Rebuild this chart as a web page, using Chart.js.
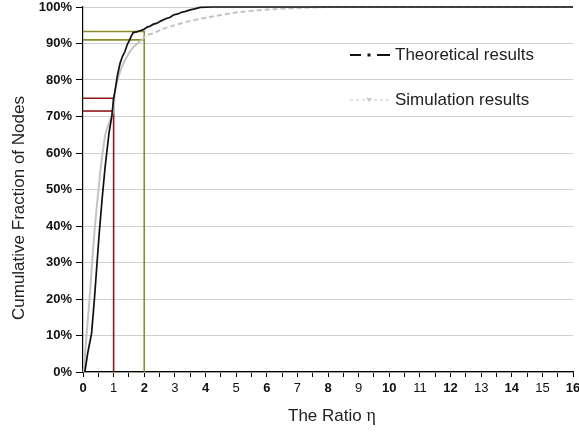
<!DOCTYPE html>
<html>
<head>
<meta charset="utf-8">
<script src="https://cdn.jsdelivr.net/npm/chart.js@4"></script>
<style>
  html, body { margin: 0; padding: 0; background: #fff; }
  #wrap { width: 579px; height: 433px; }
</style>
</head>
<body>
<div id="wrap"><canvas id="myChart"></canvas></div>
<script>
// theoretical curve (black)
const theoX = [0.06, 0.15, 0.28, 0.37, 0.45, 0.53, 0.62, 0.72, 0.85, 0.94, 1.0, 1.05, 1.13, 1.21, 1.29, 1.37, 1.44, 1.51, 1.58, 1.64, 1.75, 1.86, 1.97, 2.1, 2.2, 2.3, 2.4, 2.55, 2.7, 2.85, 2.95, 3.1, 3.2, 3.35, 3.5, 3.65, 3.82, 4.2, 8, 16]
const theoY = [0, 5, 10.6, 19.7, 28.9, 38, 47, 56, 65.5, 70, 75, 77.3, 81.5, 84.6, 86.5, 87.8, 89.6, 90.8, 92.1, 93, 93.2, 93.5, 93.8, 94.5, 94.8, 95.3, 95.5, 96.2, 96.8, 97.2, 97.8, 98.1, 98.5, 98.8, 99.2, 99.5, 99.9, 100, 100, 100]
// simulation curve (grey)
const simX = [0.02, 0.12, 0.21, 0.29, 0.37, 0.47, 0.58, 0.74, 0.99, 1.05, 1.2, 1.37, 1.64, 1.92, 2.08, 2.3, 2.6, 2.95, 3.5, 4.04, 5, 6, 7, 8, 16]
const simY = [0, 10.6, 19.7, 29, 38, 47, 56, 65.5, 71.5, 77, 82, 85.5, 89, 91, 92.3, 92.8, 94, 94.9, 96.2, 97.1, 98.5, 99.3, 99.7, 100, 100]
// reference markers at eta = 1 and eta = 2
const markX = [1, 2]
const markTheo = [75, 93.3]
const markSim = [71.5, 91]
const markColors = ['#961515', '#8c8c2a']
const seriesNames = ['Theoretical results', 'Simulation results']

const FONT = '"Liberation Sans", Arial, sans-serif'
const pts = (xs, ys) => xs.map((x, i) => ({ x: x, y: ys[i] }))

const markSets = []
markX.forEach((mx, i) => {
  markSets.push({
    data: [{ x: 0, y: markTheo[i] }, { x: mx, y: markTheo[i] }, { x: mx, y: 0 }],
    borderColor: markColors[i], borderWidth: 1.6, pointRadius: 0, tension: 0, order: 3
  })
  markSets.push({
    data: [{ x: 0, y: markSim[i] }, { x: mx, y: markSim[i] }],
    borderColor: markColors[i], borderWidth: 1.6, pointRadius: 0, tension: 0, order: 3
  })
})

// legend inside the plot + axis titles
const textPlugin = {
  id: 'texts',
  afterDraw(chart) {
    const c = chart.ctx
    c.save()
    c.font = '17px ' + FONT
    c.fillStyle = '#222'
    c.textBaseline = 'middle'
    // theoretical: dash-dot sample
    let y = 55
    c.strokeStyle = '#111'; c.lineWidth = 1.8
    c.beginPath(); c.moveTo(350, y); c.lineTo(361, y); c.moveTo(377, y); c.lineTo(390, y); c.stroke()
    c.fillStyle = '#111'; c.fillRect(367.5, y - 1.5, 3, 3)
    c.fillStyle = '#222'
    c.fillText(seriesNames[0], 395, y)
    // simulation: grey dashes with small triangle
    y = 100
    c.strokeStyle = '#c8c8c8'; c.lineWidth = 1.2
    c.setLineDash([3, 3])
    c.beginPath(); c.moveTo(350, y); c.lineTo(390, y); c.stroke()
    c.setLineDash([])
    c.fillStyle = '#c8c8c8'
    c.beginPath(); c.moveTo(366, y - 2); c.lineTo(372, y - 2); c.lineTo(369, y + 2); c.closePath(); c.fill()
    c.fillStyle = '#222'
    c.fillText(seriesNames[1], 395, y)

    // x axis title, eta in a serif face
    c.textBaseline = 'alphabetic'
    c.textAlign = 'left'
    c.font = '17px ' + FONT
    const xt = 'The Ratio '
    c.fillText(xt, 288, 421)
    const w = c.measureText(xt).width
    c.font = '18px "Liberation Serif", "Times New Roman", serif'
    c.fillText('η', 288 + w, 421)

    // y axis title
    c.font = '17px ' + FONT
    c.translate(24, 320)
    c.rotate(-Math.PI / 2)
    c.fillText('Cumulative Fraction of Nodes', 0, 0)
    c.restore()
  }
}

const ctx = document.getElementById('myChart')
const myChart = new Chart(ctx, {
  type: 'line',
  data: {
    datasets: [
      {
        label: seriesNames[0], data: pts(theoX, theoY),
        borderColor: '#111', borderWidth: 1.7, pointRadius: 0, tension: 0, order: 1
      },
      {
        label: seriesNames[1], data: pts(simX, simY),
        borderColor: '#c4c4c4', borderWidth: 2, pointRadius: 0, tension: 0.2, order: 2,
        segment: { borderDash: s => s.p0.parsed.x >= 1.9 ? [5, 3] : undefined }
      },
      ...markSets
    ]
  },
  options: {
    responsive: true,
    maintainAspectRatio: false,
    animation: false,
    clip: false,
    layout: { padding: { top: 7, right: 6, left: 0, bottom: 0 } },
    plugins: { legend: { display: false }, tooltip: { enabled: false } },
    scales: {
      x: {
        type: 'linear', min: 0, max: 16,
        border: { color: '#000', width: 1.2 },
        grid: { drawOnChartArea: false, tickLength: 5, tickColor: '#000' },
        ticks: {
          stepSize: 0.5, autoSkip: false, maxRotation: 0, padding: 4, color: '#111',
          callback: v => Number.isInteger(v) ? String(v) : '',
          font: c => ({ family: FONT, size: 13, weight: (c.tick && c.tick.value % 2 === 0) ? 'bold' : 'normal' })
        },
        afterFit: s => { s.height = 61; s.paddingRight = 0; s.paddingLeft = 0 }
      },
      y: {
        min: 0, max: 100,
        border: { color: '#000', width: 1.2 },
        grid: {
          tickLength: 7, tickColor: '#000',
          color: c => (c.tick && c.tick.value % 10 === 0) ? '#d0d0d0' : 'rgba(0,0,0,0)'
        },
        ticks: {
          stepSize: 5, padding: 4, color: '#111',
          callback: v => v % 10 === 0 ? v + '%' : '',
          font: { family: FONT, size: 13, weight: 'bold' }
        },
        afterFit: s => { s.width = 83; s.paddingTop = 0; s.paddingBottom = 0 }
      }
    }
  },
  plugins: [textPlugin]
})
</script>
</body>
</html>
